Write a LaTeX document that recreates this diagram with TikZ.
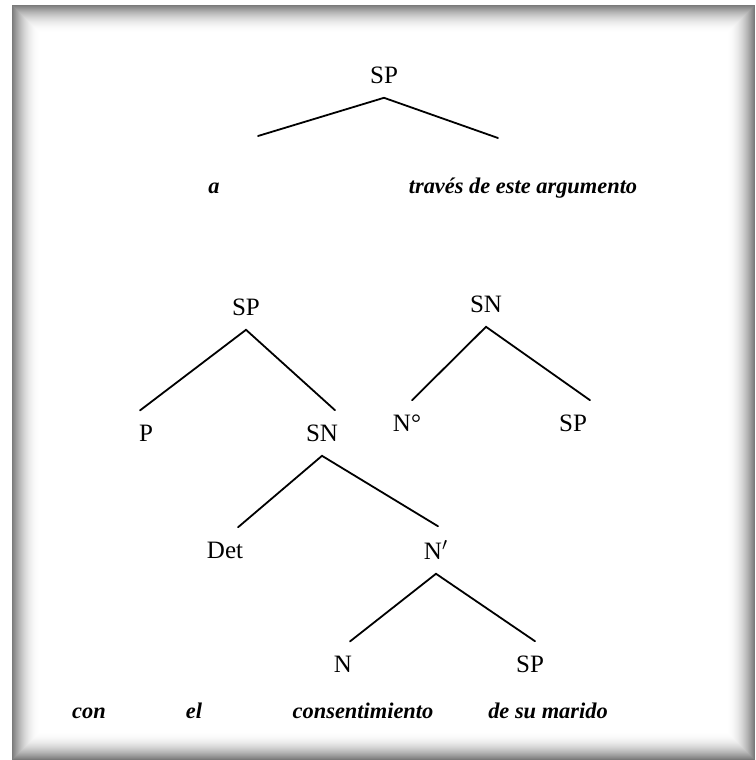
\documentclass[tikz,border=0pt]{standalone}
\usepackage{fontspec}
\setmainfont{Liberation Serif}
\begin{document}
\begin{tikzpicture}[x=0.5pt,y=-0.5pt,
    cat/.style={inner xsep=0pt, inner ysep=7pt, font=\fontsize{12.5}{15}\selectfont},
    word/.style={inner sep=0pt, anchor=base, font=\fontsize{11.2}{14}\selectfont\bfseries\itshape},
    branch/.style={line width=0.9pt, line cap=round}]
    \useasboundingbox (0,0) rectangle (755,760);
    % marco con sombra
    \foreach \i [evaluate=\i as \g using {52*(1-\i/28)^2}] in {0,...,28}
        \draw[black!\g, line width=0.6pt] (12.5+\i,5.5+\i) rectangle (754.5-\i,759.5-\i);

    % arbol superior
    \node[cat] (sp1) at (384,75) {SP};
    \coordinate (izq1) at (258,136);
    \coordinate (der1) at (498,138);
    \draw[branch] (izq1) -- (sp1.south) -- (der1);
    \node[word] (a) at (214,193) {a};
    \node[word] (traves) at (523,193) {través de este argumento};

    % arbol inferior
    \node[cat] (sp2) at (246,307) {SP};
    \node[cat] (p) at (146,433) {P};
    \node[cat] (sn1) at (322,433) {SN};
    \draw[branch] ([xshift=-3pt]p.north) -- (sp2.south) -- ([xshift=6.5pt]sn1.north);

    \node[cat] (det) at (225,550) {Det};
    \node[cat] (nbar) at (436,550) {N$'$};
    \draw[branch] ([xshift=6.5pt]det.north) -- (sn1.south) -- ([xshift=1pt]nbar.north);

    \node[cat] (n) at (343,664) {N};
    \node[cat] (sp4) at (530,664) {SP};
    \draw[branch] ([xshift=3.5pt]n.north) -- (nbar.south) -- ([xshift=2.5pt]sp4.north);

    % arbol derecho
    \node[cat] (sn2) at (486,304) {SN};
    \node[cat] (ncero) at (407,423) {N°};
    \node[cat] (sp3) at (573,423) {SP};
    \draw[branch] ([xshift=2.5pt]ncero.north) -- (sn2.south) -- ([xshift=8.5pt]sp3.north);

    % palabras
    \node[word] (con) at (89,718) {con};
    \node[word] (el) at (194,718) {el};
    \node[word] (consent) at (363,718) {consentimiento};
    \node[word] (desu) at (548,718) {de su marido};
\end{tikzpicture}
\end{document}
